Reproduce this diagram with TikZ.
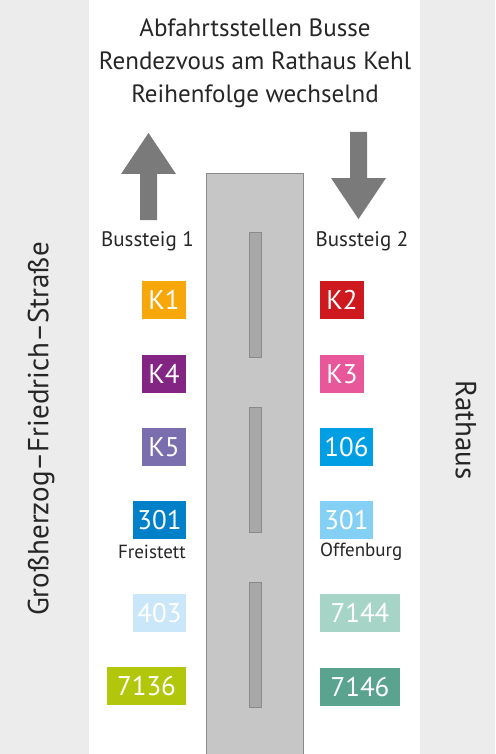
\documentclass[tikz,border=0pt]{standalone}
\usepackage{fontspec}
\setmainfont{PT Sans}
\definecolor{bgside}{HTML}{ECECEC}
\definecolor{txt}{HTML}{262626}
\definecolor{arrowgray}{HTML}{7A7A7A}
\definecolor{road}{HTML}{C6C6C6}
\definecolor{roadline}{HTML}{8A8A8A}
\definecolor{median}{HTML}{A8A8A8}
\definecolor{cKone}{HTML}{F7A70A}
\definecolor{cKtwo}{HTML}{CE1A1E}
\definecolor{cKfour}{HTML}{822583}
\definecolor{cKthree}{HTML}{E8579A}
\definecolor{cKfive}{HTML}{7B6EAF}
\definecolor{cOneOSix}{HTML}{009FE3}
\definecolor{cThreeL}{HTML}{0080C8}
\definecolor{cThreeR}{HTML}{84CFF4}
\definecolor{cFour}{HTML}{C9E7F8}
\definecolor{cSevenFourFour}{HTML}{A6D5C7}
\definecolor{cSevenThree}{HTML}{B2C70C}
\definecolor{cSevenFourSix}{HTML}{5AA38E}
\begin{document}
\begin{tikzpicture}[x=1pt,y=-1pt,
  busbox/.style={inner sep=0pt, minimum height=38pt, text=white,
    font=\fontsize{27}{27}\selectfont},
  lbl/.style={text=txt, inner sep=0pt},
  arrowshape/.style={fill=arrowgray, draw=none},
  mediansty/.style={fill=median, draw=roadline, line width=1pt}]
\useasboundingbox (0,0) rectangle (495,754);
\fill[bgside] (0,0) rectangle (495,754);
\fill[white] (89,0) rectangle (420,754);
% title
\node[lbl, font=\fontsize{25}{33}\selectfont, align=center] (title) at (255,63)
  {Abfahrtsstellen Busse\\Rendezvous am Rathaus Kehl\\Reihenfolge wechselnd};
% arrows
\fill[arrowshape] (148.5,133) -- (176,174) -- (157,174) -- (157,220) -- (140,220) -- (140,174) -- (121,174) -- cycle;
\fill[arrowshape] (358.5,219) -- (386,178) -- (367,178) -- (367,132) -- (350,132) -- (350,178) -- (331,178) -- cycle;
% road
\draw[fill=road, draw=roadline, line width=1pt] (206,174) rectangle (303,760);
\draw[mediansty] (249,232) rectangle (261,357);
\draw[mediansty] (249,407) rectangle (261,532);
\draw[mediansty] (249,582) rectangle (261,707);
% platform labels
\node[lbl, font=\fontsize{21}{21}\selectfont] (b1) at (147.5,241) {Bussteig 1};
\node[lbl, font=\fontsize{21}{21}\selectfont] (b2) at (362,241) {Bussteig 2};
% left boxes
\node[busbox, fill=cKone, minimum width=44pt] (k1) at (164,300) {K1};
\node[busbox, fill=cKfour, minimum width=44pt] (k4) at (164,374) {K4};
\node[busbox, fill=cKfive, minimum width=44pt] (k5) at (164,447) {K5};
\node[busbox, fill=cThreeL, minimum width=53pt] (l301) at (159.5,520) {301};
\node[lbl, font=\fontsize{19}{19}\selectfont, anchor=east] (frei) at (186,552) {Freistett};
\node[busbox, fill=cFour, minimum width=53pt] (b403) at (159.5,613) {403};
\node[busbox, fill=cSevenThree, minimum width=79pt] (b7136) at (146.5,686) {7136};
% right boxes
\node[busbox, fill=cKtwo, minimum width=44pt] (k2) at (342,300) {K2};
\node[busbox, fill=cKthree, minimum width=44pt] (k3) at (342,374) {K3};
\node[busbox, fill=cOneOSix, minimum width=53pt] (b106) at (346.5,447) {106};
\node[busbox, fill=cThreeR, minimum width=53pt] (r301) at (346.5,520) {301};
\node[lbl, font=\fontsize{19}{19}\selectfont, anchor=west] (offb) at (320,552) {Offenburg};
\node[busbox, fill=cSevenFourFour, minimum width=80pt] (b7144) at (360,613) {7144};
\node[busbox, fill=cSevenFourSix, minimum width=80pt] (b7146) at (360,687) {7146};
% street names
\node[lbl, rotate=90, font=\fontsize{29}{29}\selectfont] (street) at (41,429) {Großherzog–Friedrich–Straße};
\node[lbl, rotate=-90, font=\fontsize{29}{29}\selectfont] (rathaus) at (466,430) {Rathaus};
\end{tikzpicture}
\end{document}
